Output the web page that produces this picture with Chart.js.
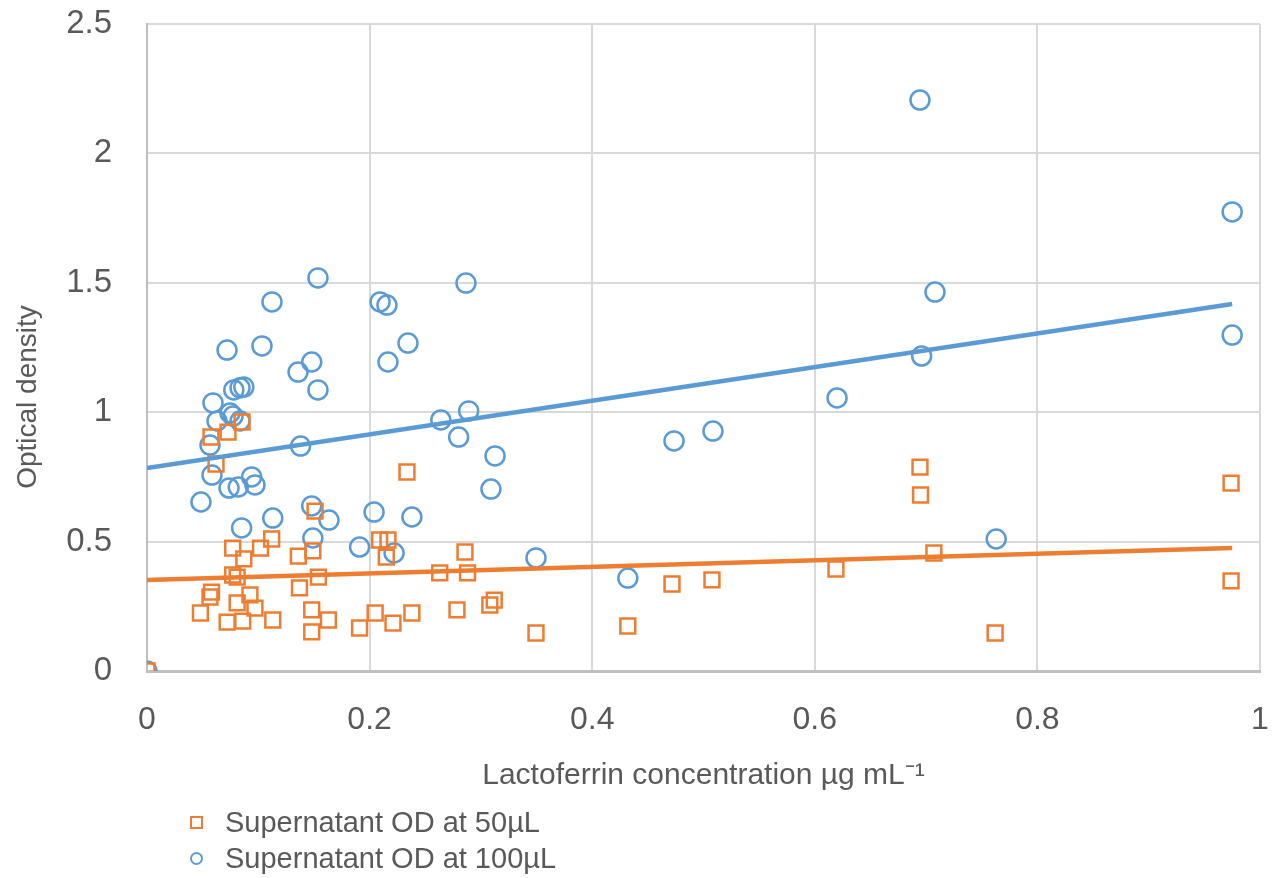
<!DOCTYPE html>
<html>
<head>
<meta charset="utf-8">
<script src="https://cdn.jsdelivr.net/npm/chart.js@4/dist/chart.umd.min.js"></script>
<style>
  body { margin: 0; background: #fff; }
  #wrap { position: relative; width: 1276px; height: 878px; }
  #legend { position: absolute; left: 190px; top: 804px; font-family: "Liberation Sans", Arial, sans-serif; font-size: 29px; color: #595959; }
  #legend div { height: 36px; line-height: 36px; display: flex; align-items: center; }
  #legend span.mark { display: inline-block; width: 9px; height: 9px; border: 2.5px solid; margin-right: 22px; }
</style>
</head>
<body>
<div id="wrap">
  <canvas id="chart" width="1276" height="878"></canvas>
  <div id="legend"></div>
</div>
<script>
// Supernatant OD at 50µL (orange squares)
const od50X = [0, 0.0575, 0.0728, 0.062, 0.151, 0.077, 0.087, 0.102, 0.112, 0.136,
  0.149, 0.077, 0.081, 0.154, 0.058, 0.0566, 0.137, 0.0925, 0.081, 0.097,
  0.048, 0.148, 0.072, 0.086, 0.113, 0.163, 0.148, 0.2336, 0.209, 0.2165,
  0.215, 0.2857, 0.263, 0.288, 0.191, 0.205, 0.221, 0.238, 0.2785, 0.308,
  0.312, 0.3495, 0.432, 0.4717, 0.5076, 0.619, 0.6945, 0.695, 0.707, 0.762,
  0.974, 0.974, 0.0854];
const od50Y = [0, 0.904, 0.923, 0.800, 0.618, 0.475, 0.433, 0.475, 0.510, 0.444,
  0.464, 0.371, 0.363, 0.363, 0.305, 0.286, 0.321, 0.294, 0.263, 0.243,
  0.224, 0.236, 0.189, 0.193, 0.197, 0.197, 0.151, 0.769, 0.506, 0.506,
  0.440, 0.460, 0.379, 0.379, 0.166, 0.224, 0.185, 0.224, 0.236, 0.255,
  0.274, 0.147, 0.174, 0.336, 0.352, 0.394, 0.788, 0.680, 0.456, 0.147,
  0.726, 0.348, 0.962];

// Supernatant OD at 100µL (blue circles)
const od100X = [0, 0.6945, 0.975, 0.975, 0.708, 0.696, 0.620, 0.5085, 0.4735, 0.432,
  0.3495, 0.763, 0.2866, 0.289, 0.264, 0.280, 0.3127, 0.309, 0.238, 0.2345,
  0.2094, 0.2156, 0.2165, 0.204, 0.191, 0.222, 0.1536, 0.148, 0.1536, 0.1357,
  0.138, 0.148, 0.149, 0.1635, 0.1123, 0.1033, 0.113, 0.0719, 0.078, 0.0836,
  0.087, 0.0593, 0.0629, 0.0746, 0.0773, 0.0836, 0.0566, 0.0584, 0.0737, 0.082,
  0.094, 0.097, 0.0485, 0.085];
const od100Y = [0, 2.206, 1.774, 1.298, 1.464, 1.217, 1.055, 0.927, 0.889, 0.359,
  0.437, 0.510, 1.499, 1.005, 0.970, 0.904, 0.831, 0.703, 0.595, 1.267,
  1.426, 1.414, 1.194, 0.614, 0.479, 0.456, 1.519, 1.194, 1.086, 1.155,
  0.869, 0.638, 0.514, 0.583, 1.426, 1.256, 0.591, 1.240, 1.086, 1.094,
  1.097, 1.036, 0.966, 0.997, 0.985, 0.966, 0.873, 0.757, 0.707, 0.711,
  0.750, 0.719, 0.653, 0.553];

// linear trendline ends
const trendX = [0, 0.975];
const trend50Y = [0.352, 0.475];
const trend100Y = [0.784, 1.418];

const xTicks = [0, 0.2, 0.4, 0.6, 0.8, 1];
const yTicks = [0, 0.5, 1, 1.5, 2, 2.5];

const ORANGE = '#ed7d31';
const BLUE = '#5b9bd5';
const TEXT = '#595959';
const FONT = '"Liberation Sans", Arial, sans-serif';

function toPoints(xs, ys) {
  return xs.map((x, i) => ({ x: x, y: ys[i] }));
}

// keep tick label padding from pushing the plot area inwards
function noEdgePadding(axis) {
  axis.paddingTop = 0;
  axis.paddingBottom = 0;
  axis.paddingLeft = 0;
  axis.paddingRight = 0;
}

// y axis title sits a bit below the middle of the plot, like the original
const yTitlePlugin = {
  id: 'yTitle',
  afterDraw(chart) {
    const c = chart.ctx;
    c.save();
    c.translate(28, 397);
    c.rotate(-Math.PI / 2);
    c.fillStyle = TEXT;
    c.font = '28px ' + FONT;
    c.textAlign = 'center';
    c.textBaseline = 'middle';
    c.fillText('Optical density', 0, 0);
    c.restore();
  }
};

const series = [
  { label: 'Supernatant OD at 50µL', color: ORANGE, style: 'rect' },
  { label: 'Supernatant OD at 100µL', color: BLUE, style: 'circle' }
];

const ctx = document.getElementById('chart').getContext('2d');
const chart = new Chart(ctx, {
  type: 'scatter',
  plugins: [yTitlePlugin],
  data: {
    datasets: [
      {
        label: series[0].label,
        data: toPoints(od50X, od50Y),
        pointStyle: 'rect',
        pointRadius: 10.5,
        borderColor: ORANGE,
        backgroundColor: 'transparent',
        borderWidth: 2.5,
        order: 3
      },
      {
        label: series[1].label,
        data: toPoints(od100X, od100Y),
        pointStyle: 'circle',
        pointRadius: 9.5,
        borderColor: BLUE,
        backgroundColor: 'transparent',
        borderWidth: 2.5,
        order: 4
      },
      {
        type: 'line',
        label: 'trend 50',
        data: toPoints(trendX, trend50Y),
        borderColor: ORANGE,
        borderWidth: 4.5,
        pointRadius: 0,
        fill: false,
        order: 1
      },
      {
        type: 'line',
        label: 'trend 100',
        data: toPoints(trendX, trend100Y),
        borderColor: BLUE,
        borderWidth: 4.5,
        pointRadius: 0,
        fill: false,
        order: 2
      }
    ]
  },
  options: {
    responsive: false,
    animation: false,
    layout: { padding: { left: 0, right: 16, top: 24, bottom: 84 } },
    plugins: {
      legend: { display: false },
      tooltip: { enabled: false }
    },
    scales: {
      x: {
        type: 'linear',
        min: 0,
        max: 1,
        afterBuildTicks: (axis) => { axis.ticks = xTicks.map(v => ({ value: v })); },
        afterFit: (axis) => { axis.height = 123; noEdgePadding(axis); },
        grid: { color: '#d9d9d9', lineWidth: 2, drawTicks: false },
        border: { color: '#bfbfbf', width: 3 },
        ticks: {
          padding: 30,
          color: TEXT,
          font: { family: FONT, size: 32 },
          callback: (v) => String(v)
        },
        title: {
          display: true,
          text: 'Lactoferrin concentration µg mL⁻¹',
          color: TEXT,
          font: { family: FONT, size: 30 },
          padding: 0
        }
      },
      y: {
        type: 'linear',
        min: 0,
        max: 2.5,
        afterBuildTicks: (axis) => { axis.ticks = yTicks.map(v => ({ value: v })); },
        afterFit: (axis) => { axis.width = 147; noEdgePadding(axis); },
        grid: { color: '#d9d9d9', lineWidth: 2, drawTicks: false },
        border: { color: '#bfbfbf', width: 2 },
        ticks: {
          padding: 35,
          color: TEXT,
          font: { family: FONT, size: 33 },
          callback: (v) => String(v)
        },
        title: { display: false }
      }
    }
  }
});

// Legend (stacked, bottom left)
const legend = document.getElementById('legend');
series.forEach(s => {
  const row = document.createElement('div');
  const mark = document.createElement('span');
  mark.className = 'mark';
  mark.style.borderColor = s.color;
  if (s.style === 'circle') mark.style.borderRadius = '50%';
  row.appendChild(mark);
  row.appendChild(document.createTextNode(s.label));
  legend.appendChild(row);
});
</script>
</body>
</html>
